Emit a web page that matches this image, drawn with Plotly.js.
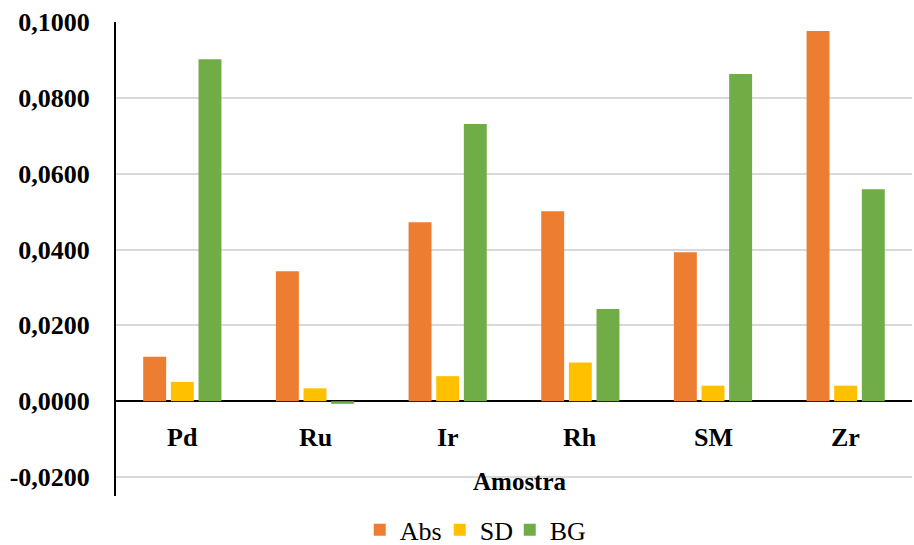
<!DOCTYPE html>
<html>
<head>
<meta charset="utf-8">
<script src="https://cdn.plot.ly/plotly-3.0.1.min.js"></script>
<style>html,body{margin:0;padding:0;background:#fff}#chart{width:914px;height:545px}</style>
</head>
<body>
<div id="chart"></div>
<script>
const categories = ["Pd", "Ru", "Ir", "Rh", "SM", "Zr"];
const absValues = [0.0117, 0.0343, 0.0472, 0.0501, 0.0393, 0.0976];
const sdValues  = [0.0051, 0.0034, 0.0066, 0.0102, 0.0041, 0.0041];
const bgValues  = [0.0902, -0.0007, 0.0731, 0.0243, 0.0863, 0.0559];
const seriesNames = ["Abs", "SD", "BG"];
const yTickVals = [-0.02, 0, 0.02, 0.04, 0.06, 0.08, 0.1];
const yTickText = ["-0,0200", "0,0000", "0,0200", "0,0400", "0,0600", "0,0800", "0,1000"];
const xTitle = "Amostra";

const font = "Liberation Serif, Times New Roman, serif";
const colors = ["#ED7D31", "#FFC000", "#70AD47"];
const legendWidths = [35, 25, 36];
const data = [absValues, sdValues, bgValues].map((vals, i) => ({
  type: "bar", x: categories, y: vals, name: seriesNames[i],
  marker: {color: colors[i]}, legendwidth: legendWidths[i]
}));

const annotations = categories.map(c => ({
  x: c, y: -0.0095, xref: "x", yref: "y", text: "<b>" + c + "</b>",
  showarrow: false, font: {family: font, size: 26, color: "#000"}
}));
annotations.push({
  x: 0.5075, y: -0.0211, xref: "paper", yref: "y", text: "<b>" + xTitle + "</b>",
  showarrow: false, font: {family: font, size: 25, color: "#000"}
});

const layout = {
  width: 914, height: 545,
  margin: {l: 116, r: 2, t: 22, b: 49},
  paper_bgcolor: "#fff", plot_bgcolor: "#fff",
  barmode: "group", bargap: 0.375, bargroupgap: 0.17,
  font: {family: font, color: "#000"},
  showlegend: true,
  legend: {orientation: "h", xref: "container", yref: "container",
           x: 0.3936, xanchor: "left", y: 0.028, yanchor: "middle",
           font: {family: font, size: 26, color: "#000"}, itemwidth: 30, tracegroupgap: 0},
  xaxis: {showticklabels: false, showgrid: false, zeroline: false, showline: false, ticks: ""},
  yaxis: {range: [-0.025, 0.1], tickvals: yTickVals, ticktext: yTickText,
          tickfont: {family: font, size: 26, color: "#000", weight: "bold"},
          showgrid: true, gridcolor: "#d9d9d9", gridwidth: 2,
          zeroline: true, zerolinecolor: "#000", zerolinewidth: 2,
          showline: true, linecolor: "#000", linewidth: 2,
          ticks: "", ticklabelstandoff: 19},
  annotations: annotations
};
Plotly.newPlot("chart", data, layout, {displayModeBar: false, staticPlot: true});
</script>
</body>
</html>
